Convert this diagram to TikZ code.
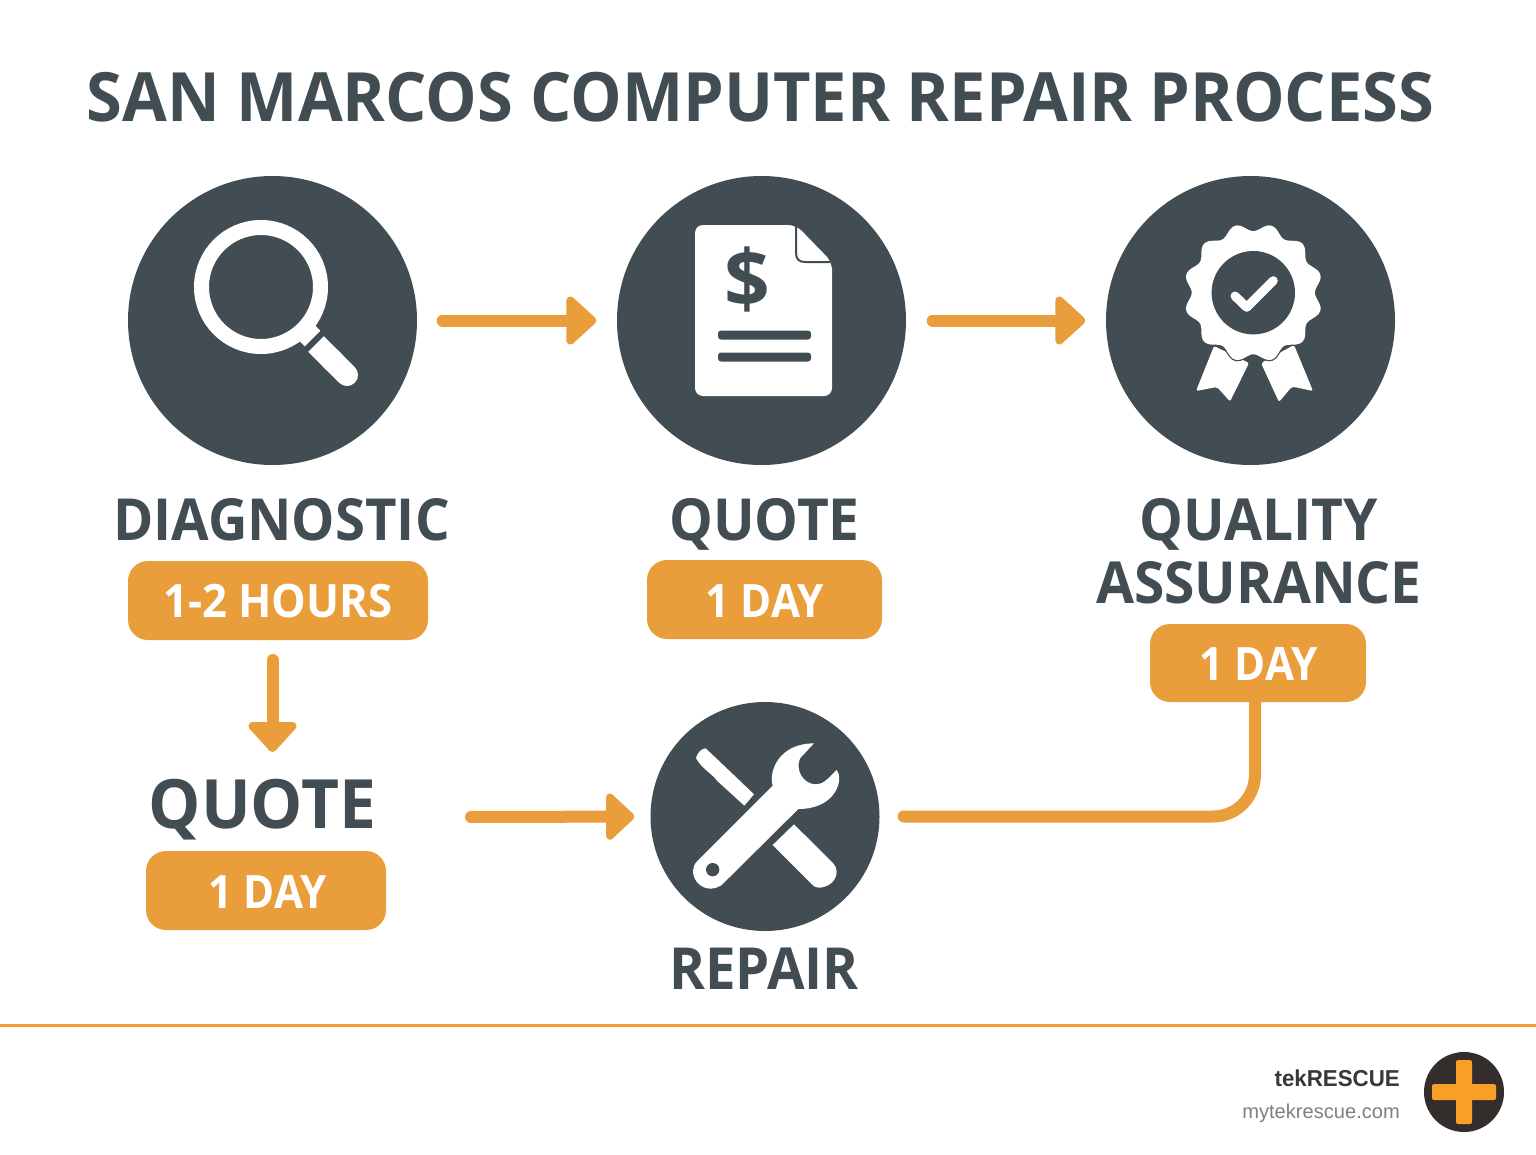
\documentclass[tikz,border=0pt]{standalone}
\usepackage{fontspec}
\setmainfont{Open Sans}
\newfontfamily\logofont{Liberation Sans}
\usetikzlibrary{arrows.meta,calc}
\definecolor{slate}{HTML}{414D52}
\definecolor{amber}{HTML}{E99D3B}
\definecolor{rule}{HTML}{F0A030}
\definecolor{logodark}{HTML}{332E2B}
\definecolor{logoamber}{HTML}{F99F25}
\definecolor{urlgrey}{HTML}{808080}
\newcommand\hs[2]{\scalebox{#1}[1]{#2}}
\tikzset{
  disc/.style={circle,fill=slate,inner sep=0pt,minimum size=#1},
  pill/.style={rectangle,rounded corners=20pt,fill=amber,inner sep=0pt},
  head/.style={anchor=base,inner sep=0pt,text=slate,font=\bfseries\fontsize{58}{60}\selectfont},
  pilltext/.style={anchor=base,inner sep=0pt,text=white,font=\bfseries\fontsize{46}{50}\selectfont},
  flow/.style={draw=amber,line width=12pt,line cap=round,-{Triangle[length=32pt,width=56pt,round]}},
  plainflow/.style={draw=amber,line width=12pt,line cap=round},
  icon/.style={fill=white,draw=none}
}
\begin{document}
\begin{tikzpicture}[x=1pt,y=-1pt]
\useasboundingbox (0,0) rectangle (1536,1154);
\fill[white] (0,0) rectangle (1536,1154);
% title
\node[anchor=base,inner sep=0pt,text=slate,font=\bfseries\fontsize{68}{70}\selectfont] (title) at (760.5,121) {\hs{0.955}{SAN MARCOS COMPUTER REPAIR PROCESS}};
% discs
\node[disc=289pt] (diag) at (272.5,320.5) {};
\node[disc=289pt] (quote) at (761.5,320.5) {};
\node[disc=289pt] (qa) at (1250.5,320.5) {};
\node[disc=229pt] (repair) at (765,816.5) {};
% magnifier
\draw[white,line width=15pt] (261,287) circle (59.5);
\draw[white,line width=22pt] (305,331) -- (312.5,338.5);
\draw[white,line width=22pt] (316,344) -- (335,363);
\draw[white,line width=22pt,line cap=round] (330,358) -- (347,375);
% document
\fill[icon,rounded corners=8pt] (695,225) -- (796,225) -- (832,262) -- (832,396) -- (695,396) -- cycle;
\draw[slate,line width=2pt] (796,225) -- (796,253) .. controls (796,259) and (799,262) .. (805,262) -- (830,262);
\node[inner sep=0pt,text=slate,font=\bfseries\fontsize{80}{80}\selectfont] (dollar) at (747.5,279) {\$};
\fill[slate,rounded corners=3pt] (718,330.5) rectangle (811,339.5);
\fill[slate,rounded corners=3pt] (718,352.5) rectangle (811,361.5);
% rosette
\fill[icon,rounded corners=2pt] (1214,346) -- (1249,363) -- (1230,401.5) -- (1217,387) -- (1196,391) -- cycle;
\fill[icon,rounded corners=2pt] (1294,345) -- (1313,391) -- (1292,386.5) -- (1279,402) -- (1261,363) -- cycle;
\draw[fill=white,draw=slate,line width=2.5pt] plot[smooth cycle,samples=121,domain=0:357] ({1253.3+(65.5-4*cos(12*\x))*cos(\x)},{292.7+(65.5-4*cos(12*\x))*sin(\x)});
\fill[white] plot[smooth cycle,samples=121,domain=0:357] ({1253.3+(65.5-4*cos(12*\x))*cos(\x)},{292.7+(65.5-4*cos(12*\x))*sin(\x)});
\fill[slate] (1253.3,292.7) circle (41.7);
\draw[white,line width=9pt,line cap=round,line join=round] (1235,296) -- (1246.7,307.3) -- (1273.3,280.7);
% tools
\begin{scope}[shift={(640,695)},scale=1/3]
\fill[icon] (168,190) .. controls (170,175) and (185,160) .. (197,160) -- (252,212) -- (342,298) -- (313,332) -- (232,258) .. controls (215,235) and (190,225) .. (168,190) -- cycle;
\fill[icon] (462,388) -- (580,505) .. controls (605,535) and (580,578) .. (535,578) .. controls (525,578) and (520,572) .. (515,567) -- (398,450) -- cycle;
\fill[icon] (172,498) -- (398,272) .. controls (385,225) and (420,145) .. (522,145) -- (480,190) .. controls (465,225) and (490,268) .. (528,268) .. controls (550,268) and (565,250) .. (590,225) .. controls (612,250) and (590,342) .. (475,342) -- (245,570) .. controls (215,590) and (185,580) .. (170,560) .. controls (155,540) and (155,515) .. (172,498) -- cycle;
\fill[slate] (218,524) circle (20);
\end{scope}
% step headings
\node[head] (diaglab) at (281.5,540) {\hs{0.94}{DIAGNOSTIC}};
\node[head] (quotelab) at (764.5,540) {\hs{0.95}{QUOTE}};
\node[head] (qualab) at (1258.5,540) {\hs{0.95}{QUALITY}};
\node[head] (asslab) at (1259,603) {\hs{0.95}{ASSURANCE}};
\node[anchor=base,inner sep=0pt,text=slate,font=\bfseries\fontsize{68}{70}\selectfont] (quote2lab) at (262.5,828) {\hs{0.967}{QUOTE}};
\node[head] (repairlab) at (764,989) {\hs{0.94}{REPAIR}};
% pills
\node[pill,minimum width=300pt,minimum height=79pt] (p1) at (278,600.5) {};
\node[pill,minimum width=235pt,minimum height=79pt] (p2) at (764.5,599.5) {};
\node[pill,minimum width=216pt,minimum height=78pt] (p3) at (1258,663) {};
\node[pill,minimum width=240pt,minimum height=79pt] (p4) at (266,890.5) {};
\node[pilltext] (p1t) at (278,617) {\hs{0.95}{1-2 HOURS}};
\node[pilltext] (p2t) at (765,617) {\hs{0.915}{1 DAY}};
\node[pilltext] (p3t) at (1259,680) {\hs{0.915}{1 DAY}};
\node[pilltext] (p4t) at (268,908) {\hs{0.915}{1 DAY}};
% connectors
\path[flow,shorten <=25.5pt,shorten >=20.5pt] (diag.east) -- (quote.west);
\path[flow,shorten <=26.5pt,shorten >=20.5pt] (quote.east) -- (qa.west);
\coordinate (downa) at (272.5,660);
\coordinate (downb) at (272.5,752);
\path[flow] (downa) -- (downb);
\coordinate (rightA) at (471,817);
\path[flow,shorten >=16pt,-{Triangle[length=30pt,width=54pt,round]}] (rightA) -- (repair.west);
\coordinate (qaDrop) at (1255,702);
\path[plainflow,rounded corners=42pt,shorten <=24pt] (repair.east) -| (qaDrop);
% footer
\coordinate (ruleL) at (0,1025);
\coordinate (ruleR) at (1536,1025);
\draw[rule,line width=3pt] (ruleL) -- (ruleR);
\node[anchor=base east,inner sep=0pt,text=black!78,font=\logofont\bfseries\fontsize{23}{26}\selectfont] (brand) at (1400,1086) {\hs{0.97}{tekRESCUE}};
\node[anchor=base east,inner sep=0pt,text=urlgrey,font=\logofont\fontsize{20.1}{22}\selectfont] (url) at (1400,1118) {mytekrescue.com};
\node[circle,fill=logodark,inner sep=0pt,minimum size=80pt] (logo) at (1464,1092) {};
\fill[logoamber,rounded corners=2pt] (1456,1060) rectangle (1472,1124);
\fill[logoamber,rounded corners=2pt] (1432,1084) rectangle (1496,1100);
\end{tikzpicture}
\end{document}
